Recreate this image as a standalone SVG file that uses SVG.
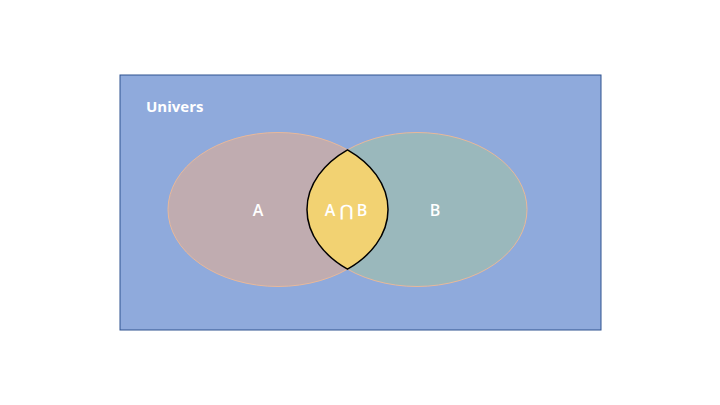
<svg xmlns="http://www.w3.org/2000/svg" width="720" height="405" viewBox="0 0 720 405">
<style>
.lbl{font-family:"Open Sans","Liberation Sans",sans-serif;fill:#FFFFFF;font-size:16px;font-weight:600;text-anchor:middle;dominant-baseline:central}
.set{stroke:#E8B89A;stroke-width:1}
</style>
<rect width="720" height="405" fill="#FFFFFF"/>
<g id="universe">
<rect x="120" y="75" width="481" height="255" fill="#8FAADC" stroke="#2F528F" stroke-width="1"/>
<text x="146" y="106" style="font-family:'Open Sans','Liberation Sans',sans-serif;font-weight:bold;font-size:15px;fill:#FFFFFF;dominant-baseline:central">Univers</text>
</g>
<g id="setA">
<ellipse class="set" cx="278" cy="209.5" rx="110" ry="77" fill="#C0ACB0"/>
<text class="lbl" x="258" y="210">A</text>
</g>
<g id="setB">
<ellipse class="set" cx="417" cy="209.5" rx="110" ry="77" fill="#9AB8BC"/>
<text class="lbl" x="435" y="210">B</text>
</g>
<g id="intersection">
<path d="M347.5,149.8 A110,77 0 0,0 347.5,269.2 A110,77 0 0,0 347.5,149.8 Z" fill="#F2D272" stroke="#000000" stroke-width="1.5" stroke-linejoin="miter"/>
<text class="lbl" x="346" y="210">A ⋂ B</text>
</g>
<g id="connectors"></g>
</svg>
